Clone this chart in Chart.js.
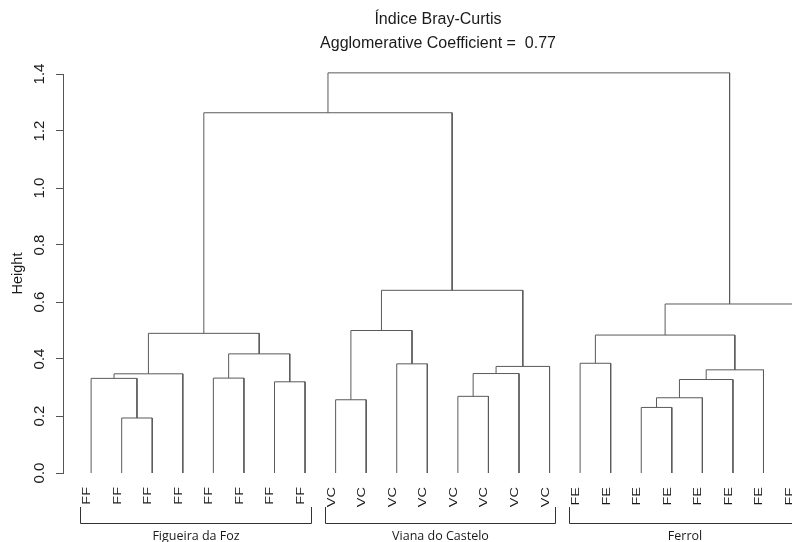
<!DOCTYPE html>
<html lang="pt">
<head>
    <meta charset="UTF-8">
    <title>Índice Bray-Curtis</title>
    <style>
        html, body {
            margin: 0;
            padding: 0;
            background: #fff;
            overflow: hidden;
        }
        /* the R plot region runs a bit past the right edge of the picture */
        .wrap {
            width: 813px;
            height: 542px;
        }
    </style>
</head>
<body>
    <div class="wrap"><canvas id="dendro" width="813" height="542"></canvas></div>

    <script src="https://cdn.jsdelivr.net/npm/chart.js"></script>
    <script>
        const leafLabels = ['FF', 'FF', 'FF', 'FF', 'FF', 'FF', 'FF', 'FF',
                            'VC', 'VC', 'VC', 'VC', 'VC', 'VC', 'VC', 'VC',
                            'FE', 'FE', 'FE', 'FE', 'FE', 'FE', 'FE', 'FE'];
        const groupNames = ['Figueira da Foz', 'Viana do Castelo', 'Ferrol'];
        const groupFirst = [1, 9, 17];
        const groupLast = [8, 16, 24];

        // hclust style merge table: negative = leaf, positive = earlier merge row
        const mergeLeft  = [-2, -19, -9, 2, -13, -7, 4, -1, -5, 8, 5, 7, 11, -11, -17, 9, 15, 10, 3, 17, 19, 18, 22];
        const mergeRight = [-3, -20, -10, -21, -14, -8, -22, 1, -6, -4, -15, -23, -16, -12, -18, 6, 12, 16, 14, -24, 13, 21, 20];
        const mergeHeight = [0.193, 0.230, 0.257, 0.264, 0.269, 0.320, 0.328, 0.332, 0.333, 0.348, 0.349, 0.362,
                             0.374, 0.383, 0.385, 0.418, 0.484, 0.490, 0.500, 0.593, 0.641, 1.264, 1.404];

        const yTicks = [0, 0.2, 0.4, 0.6, 0.8, 1.0, 1.2, 1.4];

        const titleLines = ['Índice Bray-Curtis', 'Agglomerative Coefficient =  0.77'];

        const FONT = '"Liberation Sans", Arial, Helvetica, sans-serif';
        const LINE = '#5a5a5a';
        const TEXT = '#1a1a1a';

        // x of a leaf is its position, x of a merge is the midpoint of its two children
        const nodes = [];
        function nodeOf(id) {
            return id < 0 ? { x: -id, h: 0 } : nodes[id - 1];
        }
        mergeHeight.forEach((h, i) => {
            const a = nodeOf(mergeLeft[i]);
            const b = nodeOf(mergeRight[i]);
            nodes.push({ x: (a.x + b.x) / 2, h: h });
        });

        const datasets = mergeHeight.map((h, i) => {
            const a = nodeOf(mergeLeft[i]);
            const b = nodeOf(mergeRight[i]);
            return {
                data: [
                    { x: a.x, y: a.h },
                    { x: a.x, y: h },
                    { x: b.x, y: h },
                    { x: b.x, y: b.h }
                ],
                showLine: true,
                borderColor: LINE,
                borderWidth: 1,
                pointRadius: 0,
                tension: 0,
                clip: false
            };
        });

        const labelPlugin = {
            id: 'dendroLabels',
            afterDraw(chart) {
                const { ctx } = chart;
                const xs = chart.scales.x;
                const ys = chart.scales.y;
                const y0 = ys.getPixelForValue(0);
                ctx.save();
                ctx.fillStyle = TEXT;

                // y tick labels, turned like R's default las = 0
                ctx.font = '15px ' + FONT;
                ctx.textAlign = 'center';
                ctx.textBaseline = 'middle';
                yTicks.forEach(v => {
                    ctx.save();
                    ctx.translate(ys.right - 23, ys.getPixelForValue(v));
                    ctx.rotate(-Math.PI / 2);
                    ctx.fillText(v.toFixed(1), 0, 0);
                    ctx.restore();
                });

                // leaf labels hanging under the tree
                ctx.textAlign = 'right';
                ctx.font = '14.5px ' + FONT;
                leafLabels.forEach((lab, i) => {
                    ctx.save();
                    ctx.translate(xs.getPixelForValue(i + 1) - 4, y0 + 14);
                    ctx.rotate(-Math.PI / 2);
                    ctx.scale(1, 0.75);
                    ctx.fillText(lab, 0, 0);
                    ctx.restore();
                });

                // brackets with site names
                ctx.strokeStyle = '#333';
                ctx.lineWidth = 1;
                ctx.font = '12.5px "Open Sans", "Noto Sans", sans-serif';
                ctx.textAlign = 'center';
                groupNames.forEach((name, g) => {
                    const left = Math.round(xs.getPixelForValue(groupFirst[g] - 0.35)) + 0.5;
                    const right = Math.round(xs.getPixelForValue(groupLast[g] + 0.18)) + 0.5;
                    const bottom = Math.round(y0 + 50) + 0.5;
                    const top = y0 + 34;
                    ctx.beginPath();
                    ctx.moveTo(left, top);
                    ctx.lineTo(left, bottom);
                    ctx.lineTo(right, bottom);
                    ctx.lineTo(right, top);
                    ctx.stroke();
                    ctx.fillText(name, (left + right) / 2, y0 + 63);
                });
                ctx.restore();
            }
        };

        Chart.defaults.font.family = FONT;
        Chart.defaults.color = TEXT;

        new Chart(document.getElementById('dendro'), {
            type: 'scatter',
            data: { datasets: datasets },
            options: {
                responsive: false,
                animation: false,
                events: [],
                layout: { padding: { top: 0, left: 0, right: 0, bottom: 69 } },
                scales: {
                    x: {
                        type: 'linear',
                        display: false,
                        min: 0.08,
                        max: 24.62
                    },
                    y: {
                        type: 'linear',
                        min: 0,
                        max: 1.4,
                        afterBuildTicks: s => { s.ticks = yTicks.map(v => ({ value: v })); },
                        afterFit: s => { s.width = 63; },
                        border: { display: true, color: '#555', width: 1 },
                        grid: {
                            drawOnChartArea: false,
                            drawTicks: true,
                            tickLength: 7,
                            color: '#555'
                        },
                        ticks: { display: false },
                        title: {
                            display: true,
                            text: 'Height',
                            font: { size: 14.5 },
                            padding: { top: 9, bottom: 0 }
                        }
                    }
                },
                plugins: {
                    legend: { display: false },
                    tooltip: { enabled: false },
                    title: {
                        display: true,
                        fullSize: false,
                        text: titleLines,
                        color: TEXT,
                        font: { size: 16, weight: 'normal', lineHeight: 1.5 },
                        padding: { top: 8, bottom: 18 }
                    }
                }
            },
            plugins: [labelPlugin]
        });
    </script>
</body>
</html>
